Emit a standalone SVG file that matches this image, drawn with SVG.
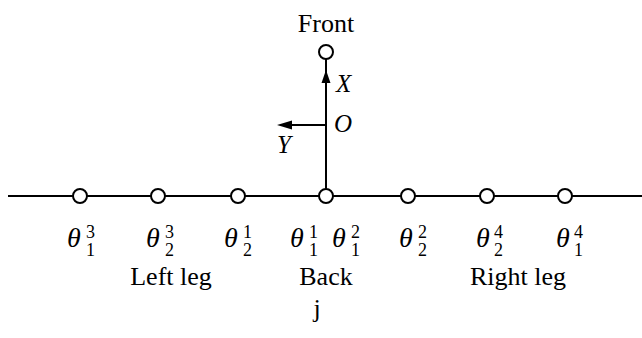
<svg xmlns="http://www.w3.org/2000/svg" width="642" height="338" viewBox="0 0 642 338">
<defs>
<circle id="node" r="7" fill="#fff" stroke="#000" stroke-width="2"/>
</defs>
<rect width="642" height="338" fill="#fff"/>
<g id="connectors" stroke="#000" stroke-width="2" fill="none">
<line x1="8" y1="196" x2="642" y2="196"/>
<line x1="326" y1="189" x2="326" y2="59"/>
<polygon points="326,70 321.5,83 330.5,83" fill="#000" stroke="none"/>
<line x1="326" y1="125" x2="290" y2="125"/>
<polygon points="277,125 292,120.5 292,129.5" fill="#000" stroke="none"/>
</g>
<g id="front"><use href="#node" x="326" y="52"/><text font-family="Liberation Serif" font-size="26" x="326" y="32" text-anchor="middle">Front</text></g>
<g id="axes" font-family="Liberation Serif" font-style="italic" font-size="25">
<text x="336" y="92">X</text>
<text x="334" y="132">O</text>
<text x="277" y="153">Y</text>
</g>
<g id="n13" font-family="Liberation Serif"><use href="#node" x="80" y="196"/><text font-style="italic" font-size="28" x="67" y="247">θ</text><text font-size="18" x="86" y="238">3</text><text font-size="18" x="86" y="256">1</text></g>
<g id="n23" font-family="Liberation Serif"><use href="#node" x="158" y="196"/><text font-style="italic" font-size="28" x="146" y="247">θ</text><text font-size="18" x="165" y="238">3</text><text font-size="18" x="165" y="256">2</text></g>
<g id="n21" font-family="Liberation Serif"><use href="#node" x="238" y="196"/><text font-style="italic" font-size="28" x="224" y="247">θ</text><text font-size="18" x="243" y="238">1</text><text font-size="18" x="243" y="256">2</text></g>
<g id="back" font-family="Liberation Serif"><use href="#node" x="326" y="196"/><text font-style="italic" font-size="28" x="290" y="247">θ</text><text font-size="18" x="309" y="238">1</text><text font-size="18" x="309" y="256">1</text><text font-style="italic" font-size="28" x="332" y="247">θ</text><text font-size="18" x="351" y="238">2</text><text font-size="18" x="351" y="256">1</text></g>
<g id="n22" font-family="Liberation Serif"><use href="#node" x="408" y="196"/><text font-style="italic" font-size="28" x="399" y="247">θ</text><text font-size="18" x="418" y="238">2</text><text font-size="18" x="418" y="256">2</text></g>
<g id="n24" font-family="Liberation Serif"><use href="#node" x="487" y="196"/><text font-style="italic" font-size="28" x="476" y="247">θ</text><text font-size="18" x="494" y="238">4</text><text font-size="18" x="494" y="256">2</text></g>
<g id="n14" font-family="Liberation Serif"><use href="#node" x="565" y="196"/><text font-style="italic" font-size="28" x="556" y="247">θ</text><text font-size="18" x="574" y="238">4</text><text font-size="18" x="574" y="256">1</text></g>
<g id="labels" font-family="Liberation Serif" font-size="26">
<text x="171" y="285" text-anchor="middle">Left leg</text>
<text x="326" y="285" text-anchor="middle">Back</text>
<text x="518" y="285" text-anchor="middle">Right leg</text>
<text x="317" y="317" text-anchor="middle">j</text>
</g>
</svg>
